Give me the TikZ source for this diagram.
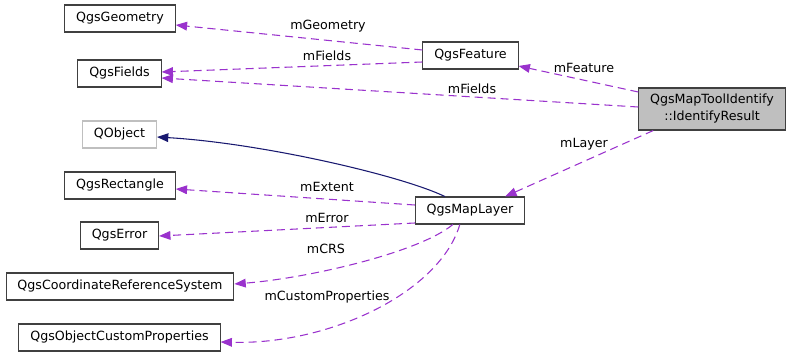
\documentclass[tikz,border=0pt]{standalone}
\usepackage{fontspec}
\setsansfont{DejaVu Sans}
\usetikzlibrary{arrows.meta}

\definecolor{member}{RGB}{154,50,205}
\definecolor{inherit}{RGB}{25,25,112}
\definecolor{boxline}{RGB}{64,64,64}
\definecolor{extgray}{RGB}{191,191,191}

\begin{document}
\begin{tikzpicture}[x=0.75pt, y=-0.75pt, font=\sffamily\fontsize{9.5}{12.75}\selectfont]

		% Class boxes and edge styles
		\tikzstyle{classbox} = [rectangle, draw=boxline, line width=0.8pt, fill=white,
		minimum height=20.25pt, inner xsep=8.5pt, inner ysep=2pt, text centered]
		\tikzstyle{extbox} = [classbox, draw=extgray]
		\tikzstyle{usage} = [draw=member, line width=0.8pt, dash pattern=on 6pt off 3.75pt,
		-{Triangle[length=8.5pt, width=6.5pt]}]
		\tikzstyle{derived} = [draw=inherit, line width=0.8pt,
		-{Triangle[length=8.5pt, width=6.5pt]}]
		\tikzstyle{edgelabel} = [inner sep=0pt]

		\useasboundingbox (0,0) rectangle (789,356);

		% Left column
		\node[classbox] (geometry) at (120,18.5) {QgsGeometry};
		\node[classbox] (fields) at (119.5,73.5) {QgsFields};
		\node[extbox] (qobject) at (119.5,134.5) {QObject};
		\node[classbox] (rectangle) at (120,185.5) {QgsRectangle};
		\node[classbox] (error) at (119.5,235.5) {QgsError};
		\node[classbox] (crs) at (120,286.5) {QgsCoordinateReferenceSystem};
		\node[classbox] (customprops) at (119.5,337.5) {QgsObjectCustomProperties};

		% Middle and right
		\node[classbox] (feature) at (470.5,55.5) {QgsFeature};
		\node[classbox] (maplayer) at (470,210.5) {QgsMapLayer};
		\node[classbox, fill=extgray, minimum height=31.5pt, align=center] (result) at (712,109)
		{QgsMapToolIdentify\\::IdentifyResult};

		% Members of QgsFeature
		\draw[usage] (feature.west |- 0,50) -- (geometry.east |- 0,25);
		\draw[usage] (feature.west |- 0,62) -- (fields.east |- 0,72);
		\node[edgelabel] (lgeometry) at (328,26) {mGeometry};
		\node[edgelabel] (lfields1) at (327,56) {mFields};

		% Members of the identify result
		\draw[usage] (result.west |- 0,92) -- (feature.east |- 0,66);
		\draw[usage] (result.west |- 0,107) -- (fields.east |- 0,78);
		\draw[usage] ([xshift=11.25pt]result.south west) -- ([xshift=-15pt]maplayer.north east);
		\node[edgelabel] (lfeature) at (584,68) {mFeature};
		\node[edgelabel] (lfields2) at (472,89) {mFields};
		\node[edgelabel] (llayer) at (584,144) {mLayer};

		% QgsMapLayer
		\draw[derived] ([xshift=22.5pt]maplayer.north west) .. controls (400,175) and (260,143) .. (qobject.east |- 0,137);
		\draw[usage] (maplayer.west |- 0,205) -- (rectangle.east |- 0,189);
		\draw[usage] (maplayer.west |- 0,223) -- (error.east |- 0,236);
		\draw[usage] ([xshift=28.5pt]maplayer.south west) .. controls (420,252) and (310,278) .. (crs.east |- 0,284);
		\draw[usage] ([xshift=33.75pt]maplayer.south west) .. controls (440,292) and (330,345) .. (customprops.east |- 0,342);
		\node[edgelabel] (lextent) at (327,187) {mExtent};
		\node[edgelabel] (lerror) at (327,218) {mError};
		\node[edgelabel] (lcrs) at (326,249) {mCRS};
		\node[edgelabel] (lcustom) at (327,297) {mCustomProperties};

	\end{tikzpicture}
\end{document}
